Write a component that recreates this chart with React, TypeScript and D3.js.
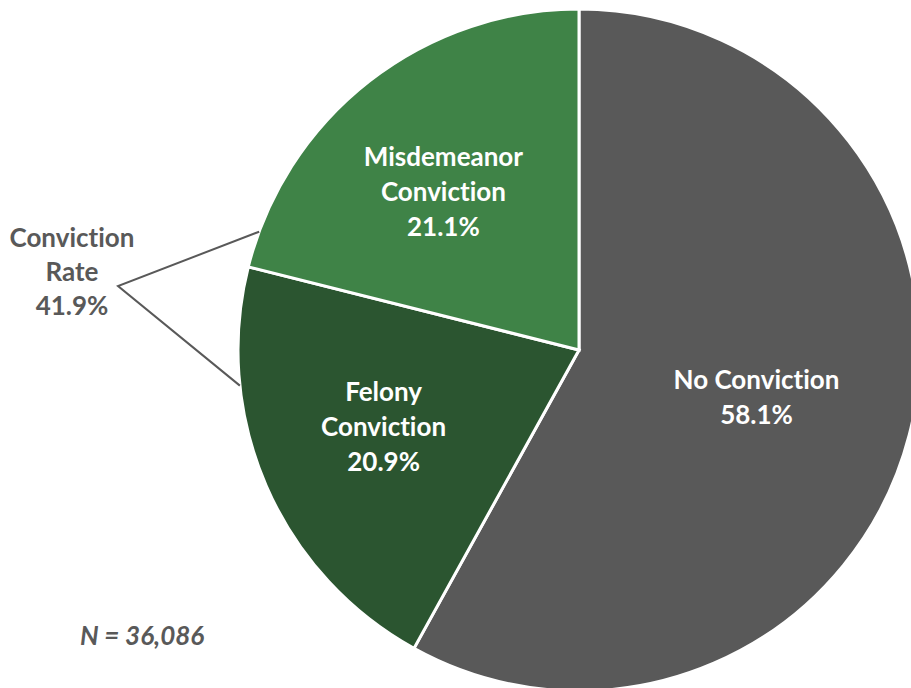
import { useEffect, useRef } from 'react';
import * as d3 from 'd3';

const categories = ['No Conviction', 'Felony Conviction', 'Misdemeanor Conviction'];
const shares = [58.1, 20.9, 21.1];
const sliceLabels = [['No Conviction'], ['Felony', 'Conviction'], ['Misdemeanor', 'Conviction']];
const sliceColors = ['#595959', '#2b5530', '#3f8347'];
const rateLabel = ['Conviction', 'Rate', '41.9%'];
const sampleNote = 'N = 36,086';

const WIDTH = 911;
const HEIGHT = 688;
const FONT = 'Lato, "Open Sans", sans-serif';
const FONT_SIZE = 26;

export default function App() {
    const svgRef = useRef<SVGSVGElement>(null);

    useEffect(() => {
        if (!svgRef.current) return;
        const svg = d3.select(svgRef.current);
        svg.selectAll('*').remove();

        const cx = 579;
        const cy = 350;
        const radius = 341;

        const g = svg.append('g').attr('transform', `translate(${cx},${cy})`);

        const data = categories.map((c, i) => ({ name: c, value: shares[i], lines: sliceLabels[i], color: sliceColors[i] }));

        const pie = d3.pie<typeof data[number]>()
            .value(d => d.value)
            .sort(null);
        const arcs = pie(data);

        const arc = d3.arc<d3.PieArcDatum<typeof data[number]>>()
            .innerRadius(0)
            .outerRadius(radius);

        g.selectAll('path.slice')
            .data(arcs)
            .join('path')
            .attr('class', 'slice')
            .attr('d', arc)
            .attr('fill', d => d.data.color)
            .attr('stroke', '#fff')
            .attr('stroke-width', 3)
            .attr('stroke-linejoin', 'miter');

        // slice labels, a bit inside the middle of each slice
        const labelArc = d3.arc<d3.PieArcDatum<typeof data[number]>>()
            .innerRadius(radius * 0.58)
            .outerRadius(radius * 0.58);
        const lineH = 35;

        arcs.forEach(a => {
            const [lx, ly] = labelArc.centroid(a);
            const lines = [...a.data.lines, `${a.data.value.toFixed(1)}%`];
            const text = g.append('text')
                .attr('text-anchor', 'middle')
                .attr('font-family', FONT)
                .attr('font-weight', 700)
                .attr('font-size', FONT_SIZE)
                .style('font-variant-ligatures', 'none')
                .attr('fill', '#fff');
            lines.forEach((l, i) => {
                text.append('tspan')
                    .attr('x', lx - 14)
                    .attr('y', ly + 7 + (i - (lines.length - 1) / 2) * lineH)
                    .text(l);
            });
        });

        // bracket for combined conviction rate
        const toXY = (deg: number): [number, number] => {
            const r = (deg * Math.PI) / 180;
            return [cx + radius * Math.sin(r), cy - radius * Math.cos(r)];
        };
        const apex: [number, number] = [118, 286];
        svg.append('path')
            .attr('d', d3.line()([toXY(290.3), apex, toXY(264)]))
            .attr('fill', 'none')
            .attr('stroke', '#595959')
            .attr('stroke-width', 2);

        const rate = svg.append('text')
            .attr('text-anchor', 'middle')
            .attr('font-family', FONT)
            .attr('font-weight', 700)
            .attr('font-size', FONT_SIZE)
            .style('font-variant-ligatures', 'none')
            .attr('fill', '#595959');
        rateLabel.forEach((l, i) => {
            rate.append('tspan')
                .attr('x', 72)
                .attr('y', 247 + i * 34)
                .text(l);
        });

        svg.append('text')
            .attr('x', 80)
            .attr('y', 645)
            .attr('font-family', FONT)
            .attr('font-weight', 700)
            .attr('font-style', 'italic')
            .attr('font-size', FONT_SIZE)
            .attr('fill', '#595959')
            .text(sampleNote);
    }, []);

    return (
        <svg
            ref={svgRef}
            width={WIDTH}
            height={HEIGHT}
            style={{ position: 'absolute', left: 0, top: 0, background: '#fff' }}
        />
    );
}
